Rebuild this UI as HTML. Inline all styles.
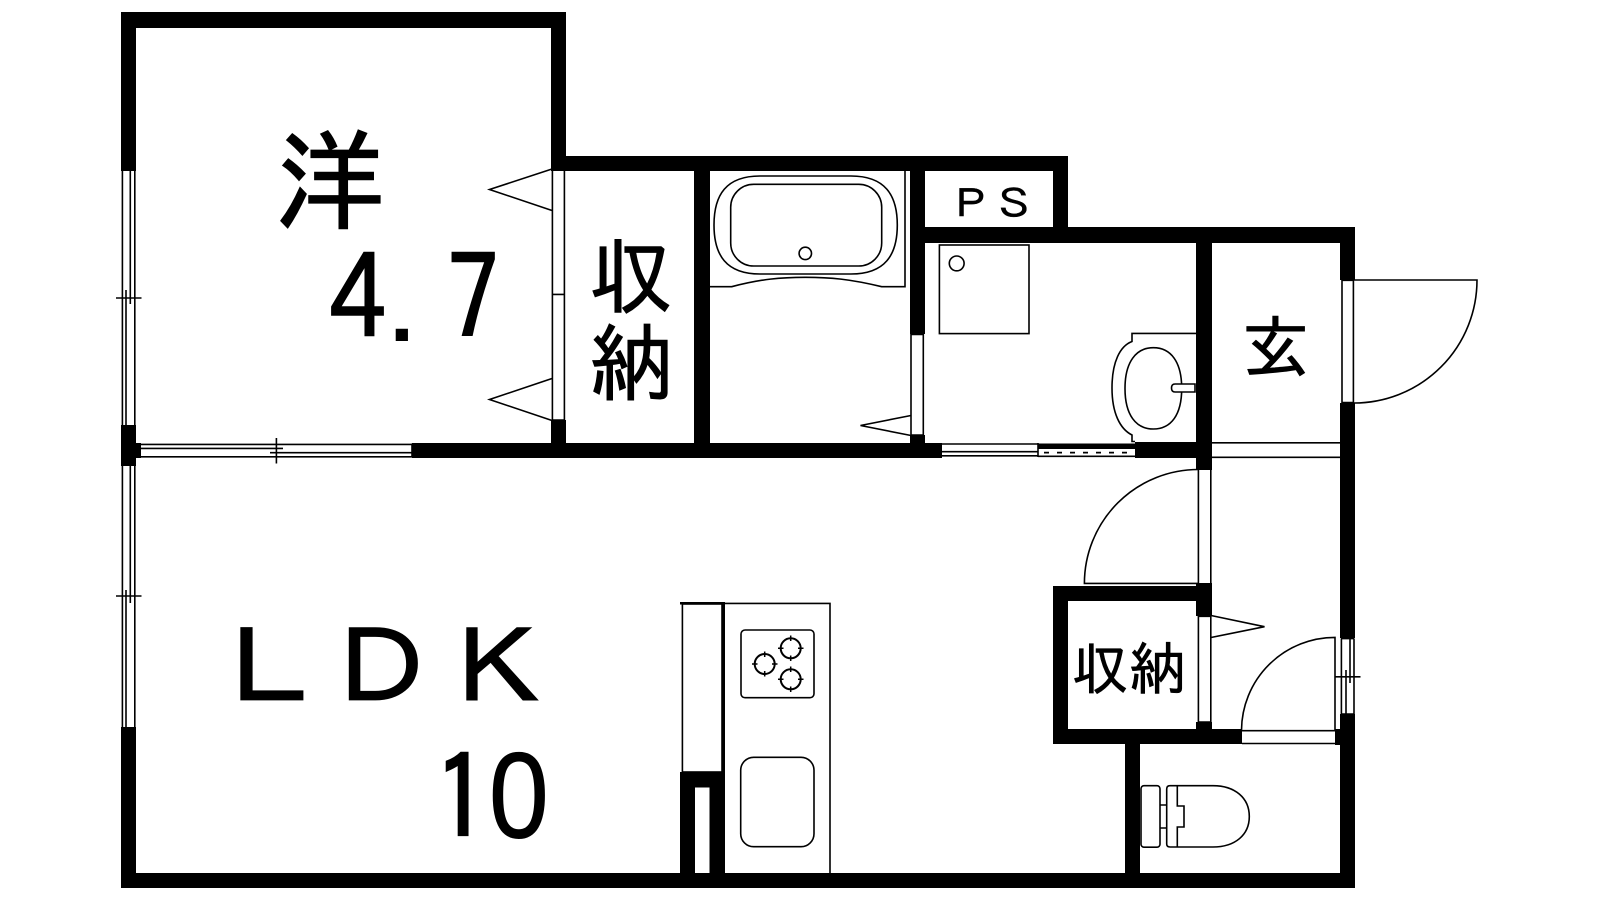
<!DOCTYPE html>
<html lang="ja"><head><meta charset="utf-8"><title>間取り図</title>
<style>html,body{margin:0;padding:0;background:#fff;width:1600px;height:900px;overflow:hidden}svg{display:block}
text{fill:#000;stroke:#000;font-family:"IPAGothic","Noto Sans CJK JP",sans-serif}
.s{fill:none;stroke:#000;stroke-width:1.6}
.w{fill:#000}
</style></head><body>
<svg width="1600" height="900" viewBox="0 0 1600 900" xmlns="http://www.w3.org/2000/svg">
<rect width="1600" height="900" fill="#fff"/>
<g class="w">
<!-- outer walls -->
<rect x="121" y="12" width="445" height="16"/>
<rect x="121" y="12" width="15" height="159"/>
<rect x="551" y="12" width="15" height="158"/>
<rect x="551" y="156" width="517" height="15"/>
<rect x="1053" y="156" width="15" height="87"/>
<rect x="910" y="227" width="445" height="16"/>
<rect x="1340" y="227" width="15" height="53"/>
<rect x="1340" y="403" width="15" height="235"/>
<rect x="1340" y="714" width="15" height="174"/>
<rect x="121" y="873" width="1234" height="15"/>
<rect x="121" y="727" width="15" height="161"/>
<rect x="121" y="425" width="15" height="41"/>
<rect x="121" y="443" width="20" height="15"/>
<!-- interior -->
<rect x="412" y="443" width="530" height="15"/>
<rect x="551" y="420" width="15" height="38"/>
<rect x="694" y="156" width="16" height="302"/>
<rect x="910" y="156" width="15" height="178"/>
<rect x="910" y="435" width="15" height="23"/>
<rect x="1135" y="442" width="77" height="16"/>
<rect x="1038" y="443.5" width="97" height="5.5"/>
<rect x="1196" y="227" width="16" height="243"/>
<rect x="1196" y="583" width="16" height="33"/>
<rect x="1196" y="722" width="16" height="10"/>
<rect x="1053" y="586" width="159" height="15"/>
<rect x="1053" y="586" width="15" height="158"/>
<rect x="1053" y="729" width="189" height="15"/>
<rect x="1125" y="744" width="15" height="130"/>
<rect x="1335" y="729" width="6" height="16"/>
<!-- fridge wall -->
<rect x="680" y="772" width="45" height="15.5"/>
<rect x="680" y="772" width="15" height="102"/>
<rect x="709.5" y="772" width="15.5" height="102"/>
<rect x="722" y="603" width="3" height="170"/>
<rect x="680" y="602" width="45" height="2.5"/>
</g>

<g class="s">
<!-- left windows -->
<path d="M122.4 171V425M134.8 171V425M130.3 171V304M126 290V425"/>
<path d="M116 298H141.5"/>
<path d="M122.4 466V727M134.8 466V727M130.3 603V466M126 590V727"/>
<path d="M116 596H141.5"/>
<path d="M141 444.4H412M141 456.8H412M141 448.4H283M270 452.7H412M412 443.5V457.5"/>
<path d="M276.4 438V463.5"/>
<!-- closet door -->
<path d="M552.4 169V420M564.4 169V420M552 294.4H565M552 169.5H565M552 420H565"/>
<path d="M552 169L489.5 189.5L552 210.5M552 378.5L489.5 399.5L552 420.5"/>
<!-- bath door -->
<path d="M911 334V435M923.3 334V435M911 334.5H923.3M911 435H923.3"/>
<path d="M911 415.5L860.5 425.5L911 435.5"/>
<!-- washroom window strip -->
<path d="M942 444H1038M942 451.7H1038M942 455.8H1038M1038 443V457M1038 456.3H1135"/>
<!-- hallway band -->
<path d="M1212 442.8H1340M1212 457.3H1340"/>
<!-- entry door -->
<path d="M1342 280V403M1353.4 280V403M1342 280.3H1354M1342 402.5H1354"/>
<path d="M1354 280H1477A123 123 0 0 1 1354 403"/>
<!-- upper LDK door -->
<path d="M1198.4 470V583M1210.8 470V583"/>
<path d="M1198.4 469.5A114 114 0 0 0 1084.4 583.4H1198.4"/>
<!-- closet door -->
<path d="M1198.4 616V722M1210.8 616V722M1198.4 616.3H1211M1198.4 722H1211"/>
<path d="M1211 615.5L1264.5 626.7L1211 637.5"/>
<!-- toilet door -->
<path d="M1335 730V637.4A93.5 93.5 0 0 0 1241.5 730"/>
<path d="M1242 730.7H1335M1242 743.5H1335"/>
<!-- right small window -->
<path d="M1341.4 638.4V714M1354 638.4V714M1341 638.6H1354M1341 714H1354M1350 638.4V683M1346 670V714M1335 676.8H1360.5"/>
<!-- bath -->
<path d="M905 171V286.7H881.7C850 279 830 277.3 805.5 277.3C781 277.3 761 279 731.7 286.7H710"/>
<path d="M760 176H851C885 176 897.3 195 897.3 225C897.3 255 885 274 851 274H760C726 274 714 255 714 225C714 195 726 176 760 176Z"/>
<rect x="730.7" y="184.3" width="151" height="81.7" rx="23" ry="23"/>
<circle cx="805.3" cy="253.4" r="6.2"/>
<!-- washer pan -->
<rect x="939.4" y="245" width="89.6" height="88.6"/>
<circle cx="956.7" cy="263.4" r="7.4"/>
<!-- sink -->
<path d="M1196 333.4H1132V341.5C1120 346 1112 362 1112 388C1112 413 1120 429 1132 435V441.5H1135"/>
<path d="M1153.3 347.7C1171 347.7 1181.7 362 1181.7 388.5C1181.7 415 1171 429 1153.3 429C1136 429 1125 415 1125 388.5C1125 362 1136 347.7 1153.3 347.7Z"/>
<path d="M1195 384H1175Q1171.5 384 1171.5 388T1175 392H1195Z" fill="#fff"/>
<!-- kitchen -->
<path d="M725 603.4H830V873"/>
<rect x="682.4" y="604" width="39.6" height="168"/>
<rect x="741" y="630" width="73" height="67.7" rx="4"/>
<rect x="740.7" y="757.3" width="73.3" height="89.4" rx="13"/>
<g style="stroke-width:2">
<circle cx="790.7" cy="648.3" r="10"/><circle cx="764.7" cy="664" r="10"/><circle cx="790.7" cy="679.3" r="10"/>
</g>
<path d="M790.7 635.5V641M790.7 655.5V661M778 648.3H783.5M798 648.3H803.5M764.7 651.5V657M764.7 671V676.5M752 664H757.5M772 664H777.5M790.7 666.5V672M790.7 686.5V692M778 679.3H783.5M798 679.3H803.5" style="stroke-width:1.5"/>
<!-- toilet -->
<rect x="1141" y="785.7" width="19" height="61.5" rx="3"/>
<path d="M1160 805H1166.7M1160 828H1166.7"/>
<path d="M1213 785.7H1170Q1166.7 785.7 1166.7 789V844Q1166.7 847 1170 847H1213C1235 847 1249.3 835 1249.3 816.5C1249.3 798 1235 785.7 1213 785.7Z"/>
<path d="M1177.3 785.7V806H1184V827H1177.3V847"/>
</g>
<path d="M1044 452.6H1128" style="fill:none;stroke:#000;stroke-width:1.8;stroke-dasharray:5 8"/>

<!-- labels -->
<text x="275" y="221" font-size="110" stroke-width="1.5">洋</text>
<text font-size="114" stroke-width="1.5" transform="translate(329 341.3) scale(1 1.04)">4</text>
<text x="388.5" y="340" font-size="84" stroke-width="1">.</text>
<text font-size="114" stroke-width="1.5" transform="translate(447 341.3) scale(.92 1.04)">7</text>
<text x="213 324 441" font-size="114" stroke-width="1.5" transform="translate(0 705) scale(1 .9)">ＬＤＫ</text>
<text font-size="114" stroke-width="1.5" transform="translate(433 841.3) scale(1 1.04)">1</text>
<text font-size="122" stroke-width="1" style='font-family:"Liberation Sans",sans-serif' transform="translate(489 837.3) scale(.88 1)">0</text>
<text x="948" y="0" font-size="44" stroke-width=".5" transform="translate(0 218) scale(1 .9)">ＰＳ</text>
<text x="589" y="307" font-size="84" stroke-width="1">収</text>
<text x="589" y="394" font-size="84" stroke-width="1">納</text>
<text x="1071.7" y="689.4" font-size="57" stroke-width=".6">収納</text>
<text x="1241.7" y="372" font-size="68" stroke-width=".8">玄</text>
</svg>
</body></html>
